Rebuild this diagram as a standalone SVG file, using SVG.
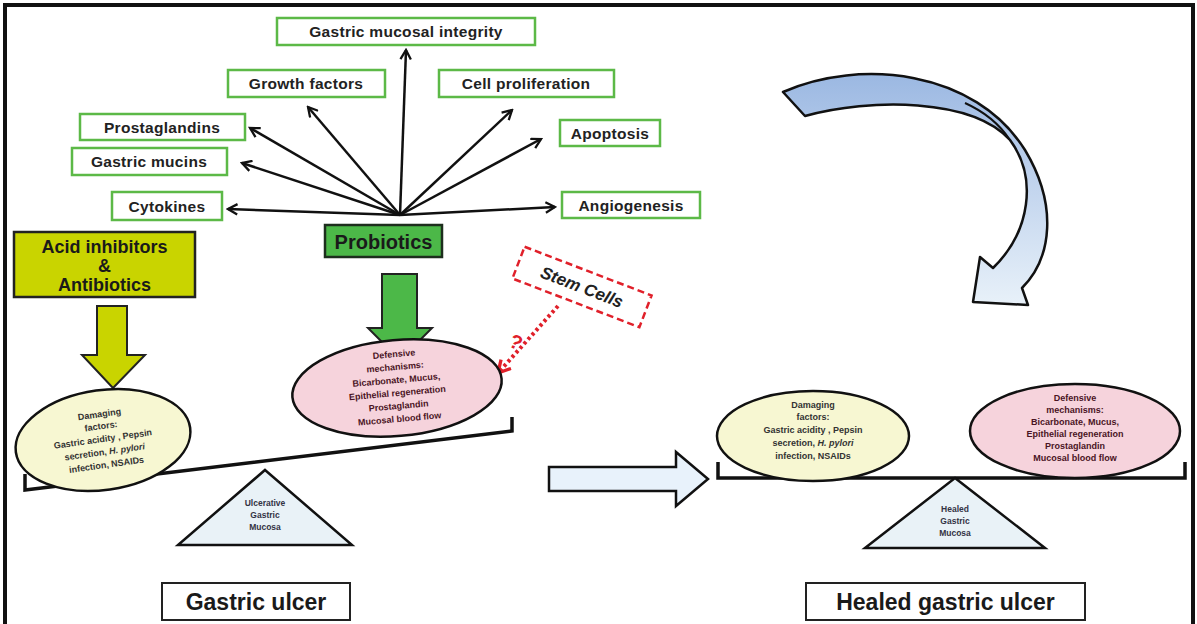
<svg xmlns="http://www.w3.org/2000/svg" width="1197" height="624" viewBox="0 0 1197 624">
<defs>
<style>
.box{fill:#fff;stroke:#5cb947;stroke-width:2.5}
.bt{font-family:"Liberation Sans",Arial,sans-serif;font-weight:bold;font-size:15.5px;letter-spacing:0.3px;fill:#222;text-anchor:middle}
.hub{stroke:#111;stroke-width:2.5;fill:none;marker-end:url(#ah)}
.et{font-family:"Liberation Sans",Arial,sans-serif;font-weight:bold;font-size:9px;text-anchor:middle}
.beam{fill:none;stroke:#111;stroke-width:3.5}
.tri{fill:#e9f2f7;stroke:#111;stroke-width:2.5}
.tt{font-family:"Liberation Sans",Arial,sans-serif;font-weight:bold;font-size:8.5px;fill:#334;text-anchor:middle}
.big{font-family:"Liberation Sans",Arial,sans-serif;font-weight:bold;fill:#1a1a1a;text-anchor:middle}
.lab{fill:#fff;stroke:#222;stroke-width:2}
</style>
<marker id="ah" viewBox="0 0 12 12" refX="10" refY="6" markerWidth="5" markerHeight="5" orient="auto" markerUnits="strokeWidth">
<path d="M1,1 L10,6 L1,11" fill="none" stroke="#111" stroke-width="2.2"/>
</marker>
<marker id="rh" viewBox="0 0 12 12" refX="10" refY="6" markerWidth="4" markerHeight="4" orient="auto" markerUnits="strokeWidth">
<path d="M1,1 L10,6 L1,11" fill="none" stroke="#e0202a" stroke-width="2.5"/>
</marker>
<linearGradient id="cg" x1="0" y1="0" x2="0" y2="1">
<stop offset="0" stop-color="#9bb8e2"/>
<stop offset="0.35" stop-color="#b8cdeb"/>
<stop offset="1" stop-color="#e8f1f9"/>
</linearGradient>
</defs>
<rect x="0" y="0" width="1197" height="624" fill="#fff"/>
<rect x="5" y="5" width="1188" height="640" fill="none" stroke="#111" stroke-width="4"/>

<g id="connectors">
<path class="hub" d="M400,215 L406,50"/>
<path class="hub" d="M400,215 L308,107"/>
<path class="hub" d="M400,215 L512,110"/>
<path class="hub" d="M400,215 L250,128"/>
<path class="hub" d="M400,215 L541,139"/>
<path class="hub" d="M400,215 L242,163"/>
<path class="hub" d="M400,215 L228,209"/>
<path class="hub" d="M400,215 L555,207"/>
<path d="M97,306 L127,306 L127,355 L145,355 L113,388 L82,355 L97,355 Z" fill="#c9d400" stroke="#222" stroke-width="2"/>
<path d="M382,274 L417,274 L417,328 L432,328 L400,360 L368,328 L382,328 Z" fill="#4cb848" stroke="#222" stroke-width="2"/>
<path d="M558,306 L498,373" fill="none" stroke="#e0202a" stroke-width="4" stroke-dasharray="3,3" marker-end="url(#rh)"/>
<path d="M549,467 L676,467 L676,452 L708,479 L676,506 L676,491 L549,491 Z" fill="#e8f2fb" stroke="#111" stroke-width="2.5"/>
<path d="M783,92 C860,58 975,70 1025,150 C1058,205 1052,258 1022,288 L1028,305 L973,302 L980,257 L993,268 C1030,232 1038,178 1010,140 C972,98 870,98 805,116 Z" fill="url(#cg)" stroke="#111" stroke-width="2.5" stroke-linejoin="round"/>
<path d="M1010,140 C1000,125 985,112 965,103" fill="none" stroke="#111" stroke-width="2"/>
</g>

<g id="n-integrity"><rect class="box" x="277" y="18" width="258" height="27"/><text class="bt" x="406" y="37">Gastric mucosal integrity</text></g>
<g id="n-growth"><rect class="box" x="228" y="70" width="157" height="27"/><text class="bt" x="306" y="89">Growth factors</text></g>
<g id="n-cellprolif"><rect class="box" x="439" y="70" width="175" height="27"/><text class="bt" x="526" y="89">Cell proliferation</text></g>
<g id="n-prostaglandins"><rect class="box" x="80" y="114" width="165" height="26"/><text class="bt" x="162" y="132.5">Prostaglandins</text></g>
<g id="n-apoptosis"><rect class="box" x="560" y="120" width="100" height="26"/><text class="bt" x="610" y="138.5">Apoptosis</text></g>
<g id="n-mucins"><rect class="box" x="72" y="148" width="155" height="27"/><text class="bt" x="149" y="167">Gastric mucins</text></g>
<g id="n-cytokines"><rect class="box" x="112" y="192" width="110" height="28"/><text class="bt" x="167" y="211.5">Cytokines</text></g>
<g id="n-angiogenesis"><rect class="box" x="562" y="192" width="138" height="26"/><text class="bt" x="631" y="210.5">Angiogenesis</text></g>

<g id="n-probiotics"><rect x="325" y="225" width="117" height="32" fill="#4cb848" stroke="#1d2e1d" stroke-width="2.5"/><text class="big" x="383.5" y="249" font-size="20">Probiotics</text></g>
<g id="n-acid"><rect x="14" y="232" width="181" height="65" fill="#c9d400" stroke="#222" stroke-width="2.5"/>
<text class="big" x="104.5" y="253" font-size="18">Acid inhibitors</text>
<text class="big" x="104.5" y="272" font-size="18">&amp;</text>
<text class="big" x="104.5" y="291" font-size="18">Antibiotics</text></g>

<g id="n-stemcells" transform="translate(582,287) rotate(21)">
<rect x="-68" y="-17" width="136" height="34" fill="#fff" stroke="#e0202a" stroke-width="2.5" stroke-dasharray="7,4"/>
<text x="0" y="6" font-family="Liberation Sans, Arial, sans-serif" font-weight="bold" font-style="italic" font-size="17" fill="#222" text-anchor="middle">Stem Cells</text>
</g>
<text x="516" y="349" transform="rotate(25 516 342)" font-family="Liberation Sans, Arial, sans-serif" font-weight="bold" font-size="20" fill="#e0202a" text-anchor="middle">?</text>

<g id="n-beam-left"><path class="beam" d="M25,474 L25,490 L512,431 L512,417"/></g>
<g id="n-ulcerative"><path class="tri" d="M265,470 L352,545 L178,545 Z"/>
<text class="tt" x="265" y="506">Ulcerative</text><text class="tt" x="265" y="518">Gastric</text><text class="tt" x="265" y="530">Mucosa</text></g>

<g id="n-damaging-left" transform="rotate(-8 103 440)">
<ellipse cx="103" cy="440" rx="88" ry="50" fill="#f7f7d2" stroke="#111" stroke-width="2.5"/>
<g class="et" fill="#333">
<text x="103" y="417">Damaging</text><text x="103" y="429">factors:</text><text x="103" y="442">Gastric acidity , Pepsin</text>
<text x="103" y="455">secretion, <tspan font-style="italic">H. pylori</tspan></text><text x="103" y="468">infection, NSAIDs</text></g>
</g>

<g id="n-defensive-left" transform="rotate(-5 397 388)">
<ellipse cx="397" cy="388" rx="105" ry="48" fill="#f6d3dc" stroke="#111" stroke-width="2.5"/>
<g class="et" fill="#4a1424">
<text x="397" y="357">Defensive</text><text x="397" y="370">mechanisms:</text><text x="397" y="383">Bicarbonate, Mucus,</text>
<text x="397" y="396">Epithelial regeneration</text><text x="397" y="409">Prostaglandin</text><text x="397" y="422">Mucosal blood flow</text></g>
</g>

<g id="n-beam-right"><path class="beam" d="M718,462 L718,478 L1185,478 L1185,462"/></g>
<g id="n-healed"><path class="tri" d="M955,478 L1045,548 L865,548 Z"/>
<text class="tt" x="955" y="512">Healed</text><text class="tt" x="955" y="524">Gastric</text><text class="tt" x="955" y="536">Mucosa</text></g>

<g id="n-damaging-right">
<ellipse cx="813" cy="436" rx="96" ry="45" fill="#f7f7d2" stroke="#111" stroke-width="2.5"/>
<g class="et" fill="#333">
<text x="813" y="408">Damaging</text><text x="813" y="420">factors:</text><text x="813" y="433">Gastric acidity , Pepsin</text>
<text x="813" y="446">secretion, <tspan font-style="italic">H. pylori</tspan></text><text x="813" y="459">infection, NSAIDs</text></g>
</g>

<g id="n-defensive-right">
<ellipse cx="1075" cy="431" rx="105" ry="47" fill="#f6d3dc" stroke="#111" stroke-width="2.5"/>
<g class="et" fill="#4a1424">
<text x="1075" y="401">Defensive</text><text x="1075" y="413">mechanisms:</text><text x="1075" y="425">Bicarbonate, Mucus,</text>
<text x="1075" y="437">Epithelial regeneration</text><text x="1075" y="449">Prostaglandin</text><text x="1075" y="461">Mucosal blood flow</text></g>
</g>

<g id="n-gastric-ulcer"><rect class="lab" x="162" y="583" width="188" height="37"/><text class="big" x="256" y="610" font-size="23">Gastric ulcer</text></g>
<g id="n-healed-ulcer"><rect class="lab" x="806" y="583" width="279" height="37"/><text class="big" x="945.5" y="610" font-size="23">Healed gastric ulcer</text></g>
</svg>
